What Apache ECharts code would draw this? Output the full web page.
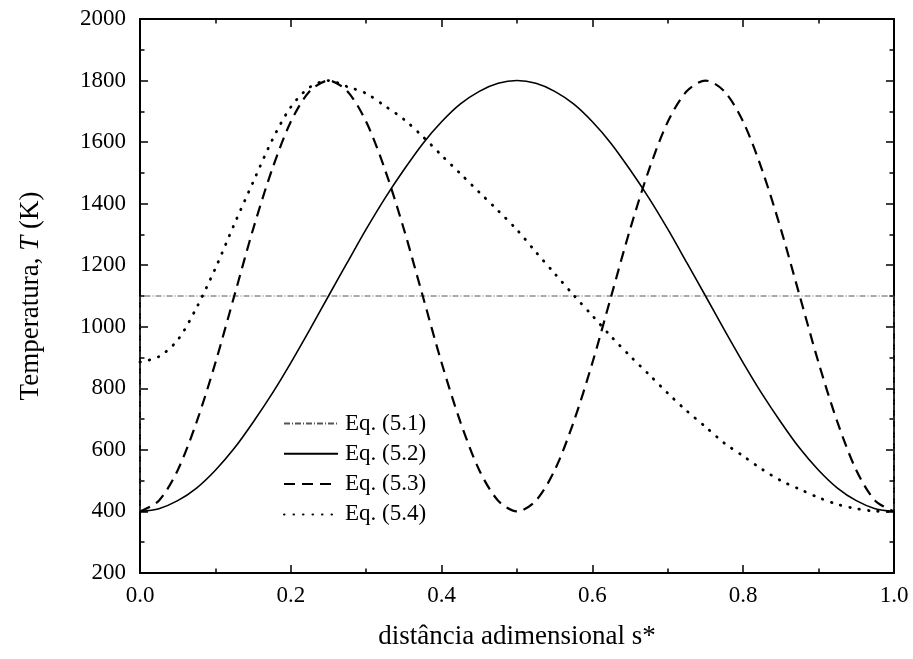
<!DOCTYPE html>
<html>
<head>
<meta charset="utf-8">
<title>Temperatura vs distância adimensional</title>
<script src="https://cdn.jsdelivr.net/npm/echarts@6/dist/echarts.min.js"></script>
<style>
  html, body { margin: 0; padding: 0; background: #fff; }
  #chart { width: 913px; height: 659px; }
</style>
</head>
<body>
<div id="chart"></div>
<script>
// Dimensionless distance s*, sampled every 0.025
const sValues = [
  0.000, 0.025, 0.050, 0.075, 0.100, 0.125, 0.150, 0.175, 0.200, 0.225,
  0.250, 0.275, 0.300, 0.325, 0.350, 0.375, 0.400, 0.425, 0.450, 0.475,
  0.500, 0.525, 0.550, 0.575, 0.600, 0.625, 0.650, 0.675, 0.700, 0.725,
  0.750, 0.775, 0.800, 0.825, 0.850, 0.875, 0.900, 0.925, 0.950, 0.975,
  1.000
];

// Eq. (5.1): uniform wall temperature, with the step from 400 K at both ends
const eq51S = [0, 0, 1, 1];
const eq51T = [400, 1100, 1100, 400];

// Eq. (5.2): single peak at mid-length
const eq52T = [
  400, 409, 435, 476, 534, 605, 690, 782, 883, 990,
  1100, 1209, 1317, 1418, 1510, 1595, 1666, 1724, 1765, 1791,
  1800, 1791, 1765, 1724, 1666, 1595, 1510, 1418, 1317, 1209,
  1100, 990, 883, 782, 690, 605, 534, 476, 435, 409,
  400
];

// Eq. (5.3): two peaks at s* = 0.25 and 0.75
const eq53T = [
  400, 435, 534, 690, 883, 1100, 1317, 1510, 1666, 1765,
  1800, 1765, 1666, 1510, 1317, 1100, 883, 690, 534, 435,
  400, 435, 534, 690, 883, 1100, 1317, 1510, 1666, 1765,
  1800, 1765, 1666, 1510, 1317, 1100, 883, 690, 534, 435,
  400
];

// Eq. (5.4): early peak with a long decay
const eq54T = [
  885, 903, 957, 1062, 1190, 1333, 1470, 1605, 1714, 1778,
  1800, 1780, 1758, 1717, 1674, 1618, 1557, 1497, 1437, 1377,
  1315, 1243, 1173, 1103, 1036, 968, 905, 845, 784, 727,
  675, 622, 580, 537, 500, 472, 445, 423, 409, 401,
  400
];

const seriesNames = ['Eq. (5.1)', 'Eq. (5.2)', 'Eq. (5.3)', 'Eq. (5.4)'];
const xTicks = { min: 0, max: 1, interval: 0.2 };
const yTicks = { min: 200, max: 2000, interval: 200 };

const pairs = (xs, ys) => xs.map((x, i) => [x, ys[i]]);

const serif = '"Liberation Serif", "Times New Roman", serif';

const frameLine = { show: true, onZero: false, lineStyle: { color: '#000', width: 2 } };
const majorTick = { show: true, inside: true, length: 8, lineStyle: { color: '#000', width: 1.5 } };
const minorTick = { show: true, splitNumber: 2, length: 4.5, lineStyle: { color: '#000', width: 1.5 } };

const chart = echarts.init(document.getElementById('chart'), null, { renderer: 'canvas' });

chart.setOption({
  backgroundColor: '#fff',
  animation: false,
  grid: { left: 140, right: 19, top: 19, bottom: 86, containLabel: false },
  legend: {
    data: seriesNames,
    orient: 'vertical',
    left: 283,
    top: 412,
    padding: 0,
    itemWidth: 54,
    itemHeight: 14,
    itemGap: 7.3,
    itemStyle: { opacity: 0 },
    textStyle: { fontFamily: serif, fontSize: 23, color: '#000', padding: [0, 0, 0, 2] }
  },
  xAxis: [
    {
      type: 'value', position: 'bottom',
      min: xTicks.min, max: xTicks.max, interval: xTicks.interval,
      name: 'distância adimensional s*',
      nameLocation: 'middle', nameGap: 50,
      nameTextStyle: { fontFamily: serif, fontSize: 27, color: '#000' },
      axisLine: frameLine, axisTick: majorTick, minorTick: minorTick,
      splitLine: { show: false },
      axisLabel: {
        fontFamily: serif, fontSize: 23, color: '#000', margin: 11,
        formatter: v => v.toFixed(1)
      }
    },
    {
      type: 'value', position: 'top',
      min: xTicks.min, max: xTicks.max, interval: xTicks.interval,
      axisLine: frameLine, axisTick: majorTick, minorTick: minorTick,
      splitLine: { show: false }, axisLabel: { show: false }
    }
  ],
  yAxis: [
    {
      type: 'value', position: 'left',
      min: yTicks.min, max: yTicks.max, interval: yTicks.interval,
      name: '{a|Temperatura, }{i|T}{a| (K)}',
      nameLocation: 'middle', nameGap: 96, nameRotate: 90,
      nameTextStyle: {
        rich: {
          a: { fontFamily: serif, fontSize: 27, color: '#000' },
          i: { fontFamily: serif, fontSize: 27, color: '#000', fontStyle: 'italic' }
        }
      },
      axisLine: frameLine, axisTick: majorTick, minorTick: minorTick,
      splitLine: { show: false },
      axisLabel: {
        fontFamily: serif, fontSize: 23, color: '#000', margin: 14,
        formatter: v => String(v)
      }
    },
    {
      type: 'value', position: 'right',
      min: yTicks.min, max: yTicks.max, interval: yTicks.interval,
      axisLine: frameLine, axisTick: majorTick, minorTick: minorTick,
      splitLine: { show: false }, axisLabel: { show: false }
    }
  ],
  series: [
    {
      name: seriesNames[0], type: 'line', showSymbol: false, symbol: 'none',
      data: pairs(eq51S, eq51T),
      lineStyle: { color: '#555', width: 1, type: [6, 2, 1, 2] },
      itemStyle: { color: '#555' }
    },
    {
      name: seriesNames[1], type: 'line', showSymbol: false, symbol: 'none', smooth: 0.3,
      data: pairs(sValues, eq52T),
      lineStyle: { color: '#000', width: 1.6, type: 'solid' },
      itemStyle: { color: '#000' }
    },
    {
      name: seriesNames[2], type: 'line', showSymbol: false, symbol: 'none', smooth: 0.3,
      data: pairs(sValues, eq53T),
      lineStyle: { color: '#000', width: 2.2, type: [11, 7] },
      itemStyle: { color: '#000' }
    },
    {
      name: seriesNames[3], type: 'line', showSymbol: false, symbol: 'none', smooth: 0.3,
      data: pairs(sValues, eq54T),
      lineStyle: { color: '#000', width: 2.8, type: [0.5, 9], cap: 'round' },
      itemStyle: { color: '#000' }
    }
  ]
});
</script>
</body>
</html>
